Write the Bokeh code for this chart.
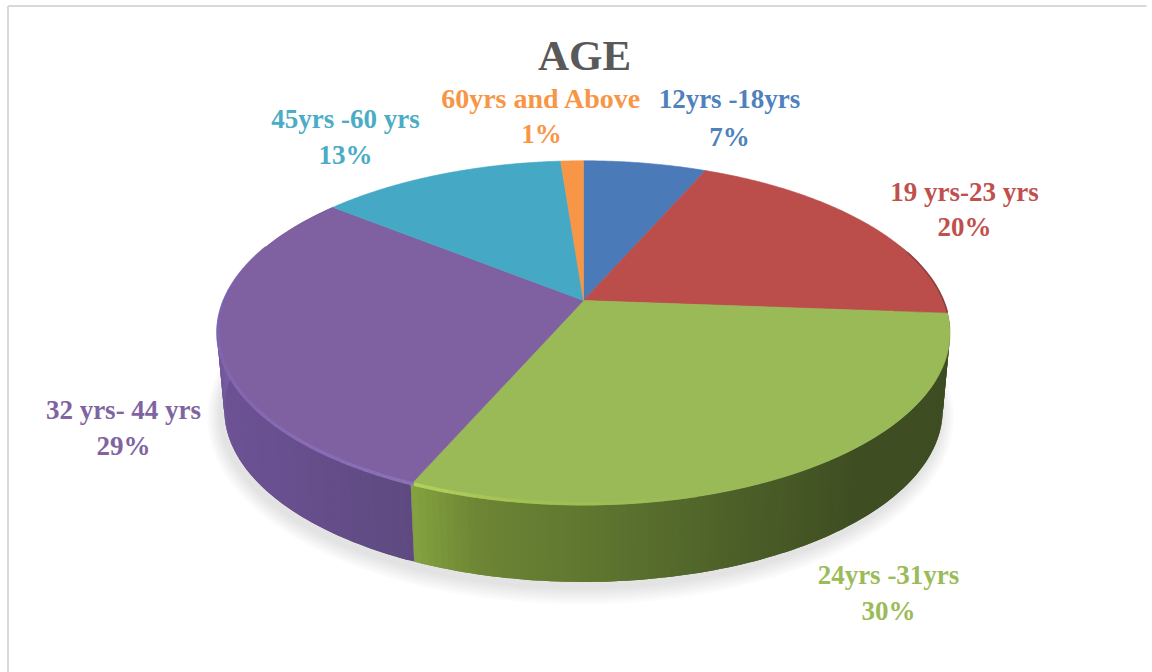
import math
from bokeh.plotting import figure
from bokeh.models import Range1d
from bokeh.core.properties import value
from bokeh.embed import file_html
from bokeh.resources import INLINE

title = "AGE"
categories = ["12yrs -18yrs", "19 yrs-23 yrs", "24yrs -31yrs", "32 yrs- 44 yrs", "45yrs -60 yrs", "60yrs and Above"]
shares = [6.5, 19.7, 30.3, 29.3, 13.0, 1.2]
percent_labels = ["7%", "20%", "30%", "29%", "13%", "1%"]

top_colors = ["#4a7ab8", "#bb4e4b", "#9aba58", "#7f60a0", "#45a9c5", "#f79646"]
text_colors = ["#4f81bd", "#c0504d", "#9bbb59", "#8064a2", "#4bacc6", "#f79646"]
label_x = [729, 964, 888, 123, 345, 541]
name_y = [98, 191, 574, 409, 118, 98]
pct_y = [136, 226, 610, 445, 154, 133]
name_size = ["27px", "27px", "27px", "27px", "27px", "28px"]

CX, CY, RX, RY, K, DEPTH, BOTTOM_SCALE = 583, 300, 360, 166, 0.188, 77, 0.98


def proj(deg, grow=0.0):
    t = math.radians(deg)
    u, v = math.sin(t), math.cos(t)
    d = 1 + K * v
    return CX + (RX + grow) * u / d, CY - (RY + grow) * v / d


def proj_bottom(deg, grow=0.0, dx=0.0, dy=0.0):
    x, y = proj(deg, grow)
    return CX + (x - CX) * BOTTOM_SCALE + dx, y + DEPTH + dy


def mix(c1, c2, f):
    a = [int(c1[i:i + 2], 16) for i in (1, 3, 5)]
    b = [int(c2[i:i + 2], 16) for i in (1, 3, 5)]
    return "#%02x%02x%02x" % tuple(round(a[i] + (b[i] - a[i]) * f) for i in range(3))


def ramp(stops, x):
    for (x0, c0), (x1, c1) in zip(stops, stops[1:]):
        if x0 <= x <= x1:
            return mix(c0, c1, (x - x0) / (x1 - x0))
    return stops[0][1] if x < stops[0][0] else stops[-1][1]


total = sum(shares)
edges = [0]
for s in shares:
    edges.append(edges[-1] + 360 * s / total)

p = figure(width=1152, height=672, x_range=Range1d(0, 1152), y_range=Range1d(672, 0),
           output_backend="svg", toolbar_location=None, min_border=0,
           outline_line_color=None, background_fill_color="white", border_fill_color="white")
p.axis.visible = False
p.grid.visible = False
p.styles = {"position": "absolute", "left": "0px", "top": "0px"}

# frame of the chart area
p.line([7.5, 7.5], [5.5, 672], line_color="#d9d9d9", line_width=2)
p.line([7.5, 1146], [5.5, 5.5], line_color="#d9d9d9", line_width=2)

# soft shadow under the pie
for g in range(14, 0, -2):
    pts = [proj_bottom(a, g, -3, 5) for a in range(0, 360, 2)]
    p.patch([q[0] for q in pts], [q[1] for q in pts], fill_color="#808080", fill_alpha=0.035, line_color=None)

# side wall, shaded in overlapping strips so no seams show
green_ramp = [(edges[2], "#3e4c22"), (140, "#3f4e22"), (160, "#4d6028"), (178, "#5e7530"), (194, "#6d8534"), (edges[3], "#84a33f")]
purple_ramp = [(edges[3], "#5e4a80"), (225, "#684f8e"), (255, "#6e5496"), (275, "#7a60a8"), (edges[4], "#7f60a0")]


def wall(start, stop, stops):
    a = start
    while a < stop:
        b = min(a + 2, stop)
        col = ramp(stops, a + 0.5)
        pts = [proj(a), proj((a + b) / 2), proj(b),
               proj_bottom(b), proj_bottom((a + b) / 2), proj_bottom(a)]
        p.patch([q[0] for q in pts], [q[1] for q in pts], fill_color=col, line_color=None)
        a += 1


wall(edges[2] - 25, edges[3], green_ramp)
wall(edges[3], edges[4], purple_ramp)

# top faces
for i, s in enumerate(shares):
    n = max(4, int(edges[i + 1] - edges[i]) * 2)
    arc = [proj(edges[i] + (edges[i + 1] - edges[i]) * j / n) for j in range(n + 1)]
    xs = [CX] + [q[0] for q in arc]
    ys = [CY] + [q[1] for q in arc]
    p.patch(xs, ys, fill_color=top_colors[i], line_color=top_colors[i], line_width=0.6)

# bevel highlight along the front rim
a = 165
rim_green = [(165, "#9aba58"), (188, "#a3c253"), (edges[3], "#b9d65e")]
rim_purple = [(edges[3], "#8c74bc"), (240, "#8568b4"), (270, "#7d63ac"), (290, "#7f60a0")]
while a < 290:
    b = a + 1
    c = ramp(rim_green, a + .5) if a + .5 < edges[3] else ramp(rim_purple, a + .5)
    q0, q1 = proj(a, -1), proj(b, -1)
    p.line([q0[0], q1[0]], [q0[1], q1[1]], line_color=c, line_width=3.5, line_alpha=0.85)
    a = b

# darker edge on the far right of the red wedge
arc = [proj(a) for a in range(72, int(edges[2]) + 1)]
p.line([q[0] for q in arc], [q[1] for q in arc], line_color="#7d3838", line_width=1.5, line_alpha=0.8)

# title and data labels
p.text([584], [55], text=[title], text_font=value("Liberation Serif"), text_font_style="bold",
       text_font_size="43px", text_color="#595959", text_align="center", text_baseline="alphabetic")
p.text(label_x, name_y, text=categories, text_font=value("Liberation Serif"), text_font_style="bold",
       text_font_size=name_size, text_color=text_colors, text_align="center", text_baseline="alphabetic")
p.text(label_x, pct_y, text=percent_labels, text_font=value("Liberation Serif"), text_font_style="bold",
       text_font_size="27px", text_color=text_colors, text_align="center", text_baseline="alphabetic")

open("out.html", "w").write(file_html(p, INLINE))
